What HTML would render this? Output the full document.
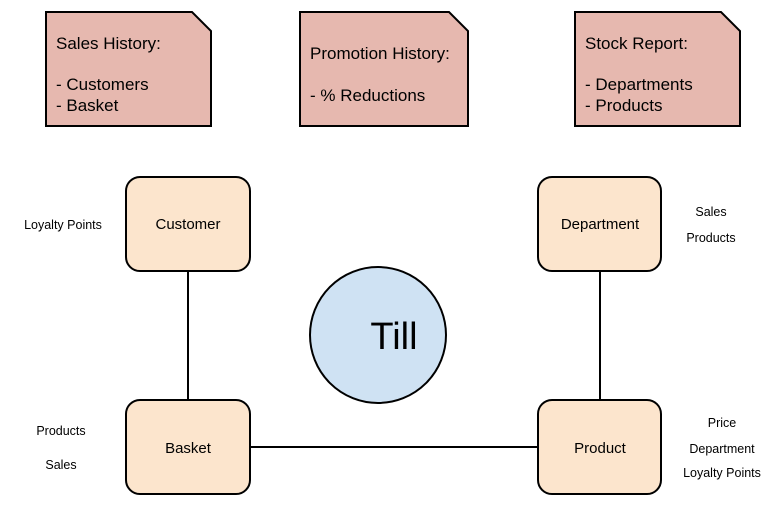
<!DOCTYPE html>
<html><head><meta charset="utf-8"><style>html,body{margin:0;padding:0;background:#fff}svg{display:block}text{font-family:"Liberation Sans",Arial,sans-serif;fill:#000}</style></head><body>
<svg width="783" height="507" viewBox="0 0 783 507">
<g stroke="#000" stroke-width="2" fill="#e6b8af">
<path d="M46 12H192L211 31V126H46Z"/>
<path d="M300 12H449L468 31V126H300Z"/>
<path d="M575 12H721L740 31V126H575Z"/>
</g>
<g font-size="17">
<text x="56" y="49">Sales History:</text>
<text x="56" y="90">- Customers</text>
<text x="56" y="111">- Basket</text>
<text x="310" y="59">Promotion History:</text>
<text x="310" y="101">- % Reductions</text>
<text x="585" y="49">Stock Report:</text>
<text x="585" y="90">- Departments</text>
<text x="585" y="111">- Products</text>
</g>
<g stroke="#000" stroke-width="2">
<line x1="188" y1="271" x2="188" y2="400"/>
<line x1="600" y1="271" x2="600" y2="400"/>
<line x1="250" y1="447" x2="538" y2="447"/>
</g>
<g stroke="#000" stroke-width="2" fill="#fce5cd">
<rect x="126" y="177" width="124" height="94" rx="14"/>
<rect x="538" y="177" width="123" height="94" rx="14"/>
<rect x="126" y="400" width="124" height="94" rx="14"/>
<rect x="538" y="400" width="123" height="94" rx="14"/>
</g>
<circle cx="378" cy="335" r="68" fill="#cfe2f3" stroke="#000" stroke-width="2"/>
<g font-size="15" text-anchor="middle">
<text x="188" y="229">Customer</text>
<text x="600" y="229">Department</text>
<text x="188" y="453">Basket</text>
<text x="600" y="453">Product</text>
</g>
<text x="394" y="349" font-size="38" text-anchor="middle">Till</text>
<g font-size="12.5" text-anchor="middle">
<text x="63" y="229">Loyalty Points</text>
<text x="711" y="216">Sales</text>
<text x="711" y="242">Products</text>
<text x="61" y="435">Products</text>
<text x="61" y="469">Sales</text>
<text x="722" y="427">Price</text>
<text x="722" y="453">Department</text>
<text x="722" y="477">Loyalty Points</text>
</g>
</svg>
</body></html>
